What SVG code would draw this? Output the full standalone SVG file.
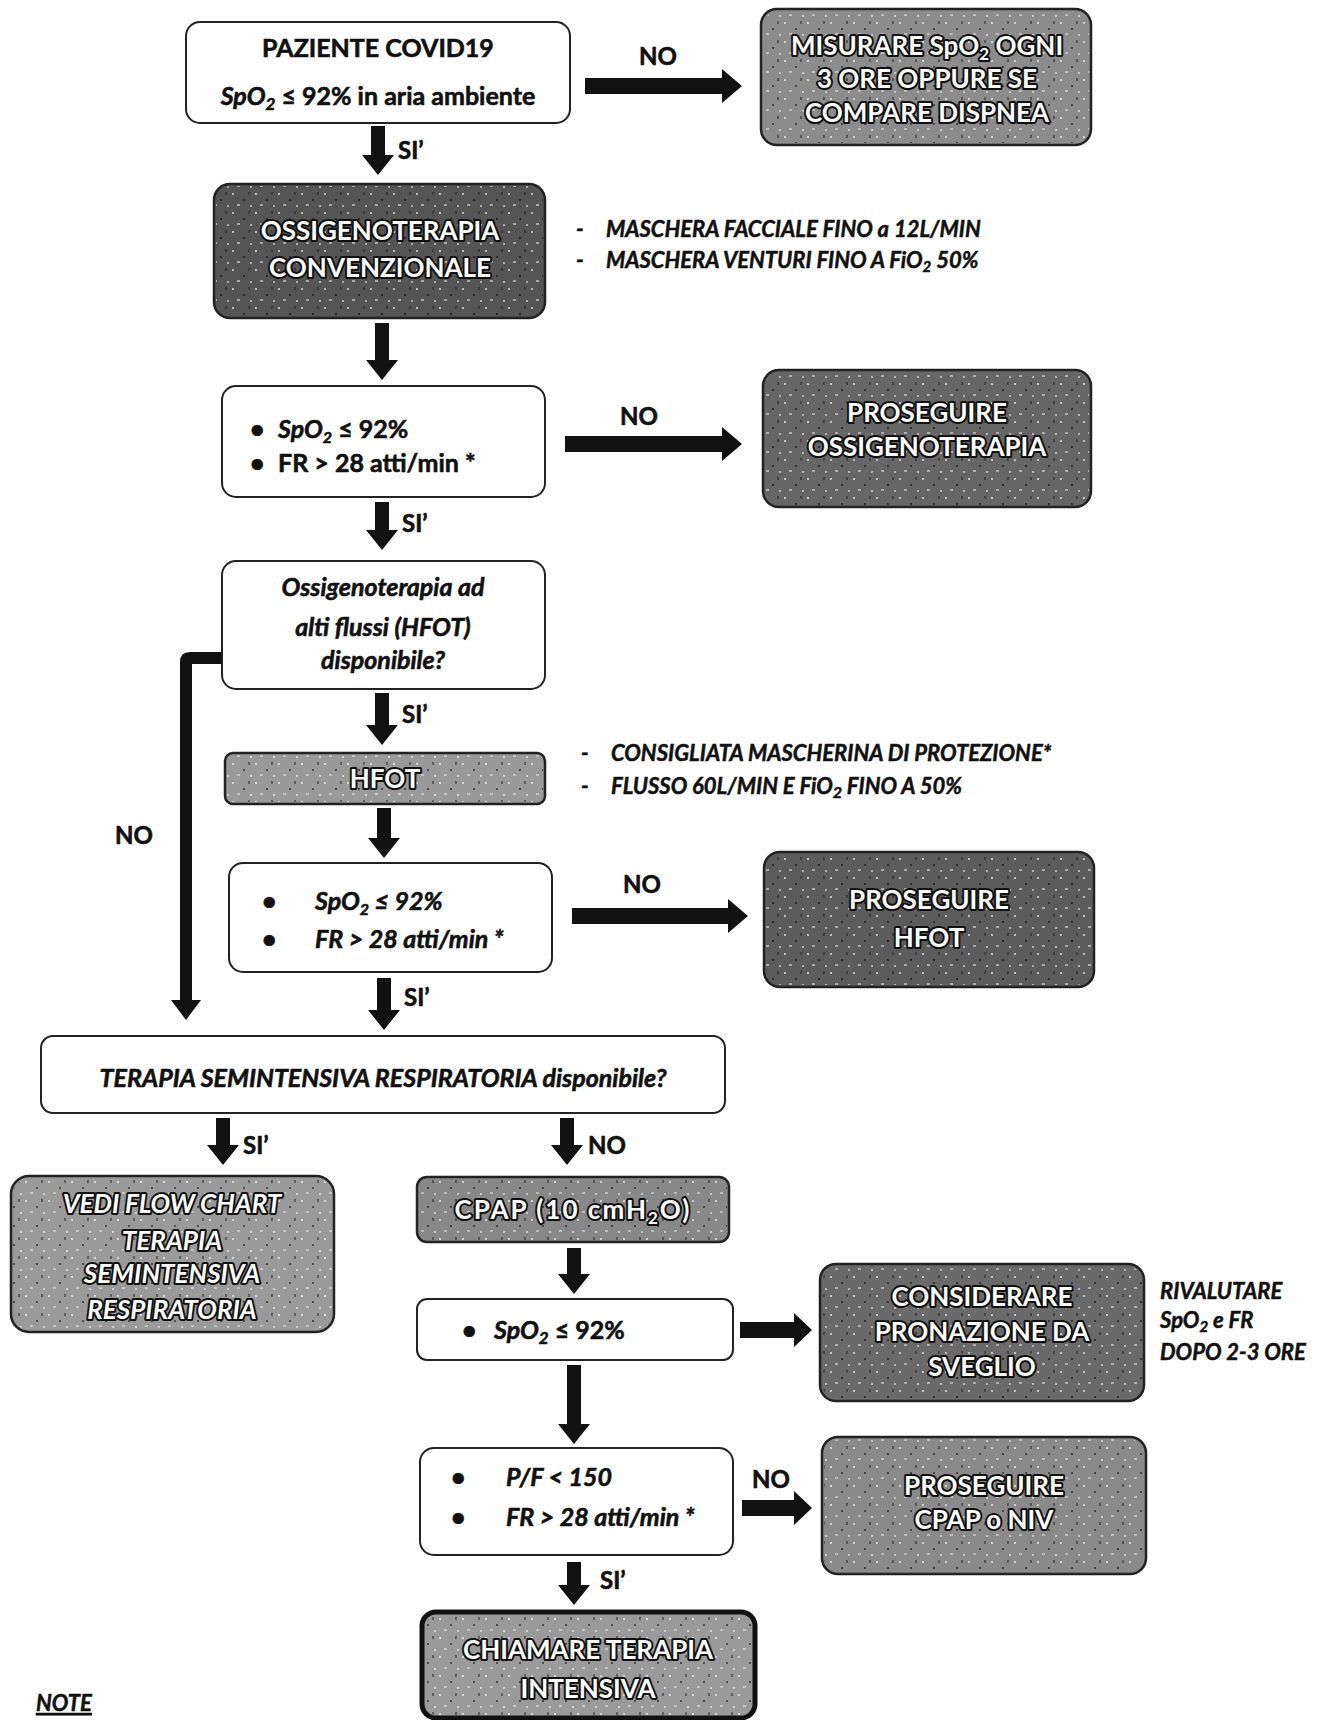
<svg xmlns="http://www.w3.org/2000/svg" width="1328" height="1720" viewBox="0 0 1328 1720">
<style>
text{font-family:Lato,"Open Sans","Liberation Sans",sans-serif;font-weight:bold}
.wb{fill:#fff;stroke:#222;stroke-width:2}
.db{stroke:#222;stroke-width:2.5}
.w{fill:#fff;stroke:#111;stroke-width:4;paint-order:stroke;stroke-linejoin:round;font-size:26px;text-anchor:middle}
.t{fill:#111;stroke:#111;stroke-width:0.6;font-size:25px}
.c{text-anchor:middle}
.i{font-style:italic}
.n{fill:#111;stroke:#111;stroke-width:0.5;font-size:22px;font-style:italic}
.l{fill:#111;stroke:#111;stroke-width:0.6;font-size:24px}
.arr{fill:#111}
</style>
<defs>
<pattern id="spk" width="23" height="19" patternUnits="userSpaceOnUse">
<rect x="2" y="3" width="2" height="2" fill="#fff" opacity="0.6"/>
<rect x="13" y="9" width="2" height="2" fill="#000" opacity="0.5"/>
<rect x="7" y="14" width="3" height="2" fill="#ddd" opacity="0.6"/>
<rect x="18" y="2" width="2" height="3" fill="#222" opacity="0.5"/>
<rect x="20" y="15" width="2" height="2" fill="#fff" opacity="0.5"/>
</pattern>
</defs>
<rect width="1328" height="1720" fill="#fff"/>

<g id="connectors">
<path class="arr" d="M371 126 H385 V155 H394 L378 175 L362 155 H371 Z"/>
<path class="arr" d="M375 323 H389 V360 H398 L382 380 L366 360 H375 Z"/>
<path class="arr" d="M375 502 H389 V530 H398 L382 550 L366 530 H375 Z"/>
<path class="arr" d="M375 693 H389 V725 H398 L382 745 L366 725 H375 Z"/>
<path class="arr" d="M377 808 H391 V838 H400 L384 858 L368 838 H377 Z"/>
<path class="arr" d="M377 978 H391 V1010 H400 L384 1030 L368 1010 H377 Z"/>
<path class="arr" d="M216 1118 H230 V1145 H239 L223 1165 L207 1145 H216 Z"/>
<path class="arr" d="M560 1118 H574 V1145 H583 L567 1165 L551 1145 H560 Z"/>
<path class="arr" d="M567 1248 H581 V1274 H590 L574 1294 L558 1274 H567 Z"/>
<path class="arr" d="M567 1365 H581 V1424 H590 L574 1444 L558 1424 H567 Z"/>
<path class="arr" d="M567 1562 H581 V1585 H590 L574 1605 L558 1585 H567 Z"/>
<path class="arr" d="M585 78 H722 V69 L742 86 L722 103 V94 H585 Z"/>
<path class="arr" d="M565 436 H722 V427 L742 444 L722 461 V452 H565 Z"/>
<path class="arr" d="M572 908 H728 V899 L748 916 L728 933 V924 H572 Z"/>
<path class="arr" d="M740 1322 H794 V1313 L812 1330 L794 1347 V1338 H740 Z"/>
<path class="arr" d="M742 1500 H794 V1491 L812 1508 L794 1525 V1516 H742 Z"/>
<path class="arr" d="M222 652 H190 Q180 652 180 662 V1000 H171 L186 1020 L201 1000 H192 V664 H222 Z"/>
<text class="l c" x="658" y="65">NO</text>
<text class="l" x="398" y="159">SI’</text>
<text class="l c" x="639" y="425">NO</text>
<text class="l" x="402" y="532">SI’</text>
<text class="l" x="402" y="723">SI’</text>
<text class="l c" x="642" y="893">NO</text>
<text class="l" x="404" y="1006">SI’</text>
<text class="l c" x="134" y="844">NO</text>
<text class="l" x="243" y="1154">SI’</text>
<text class="l" x="588" y="1154">NO</text>
<text class="l c" x="771" y="1488">NO</text>
<text class="l" x="600" y="1589">SI’</text>
</g>

<g id="n-paziente">
<rect class="wb" x="186" y="22" width="384" height="101" rx="14"/>
<text class="t c" x="378" y="57">PAZIENTE COVID19</text>
<text class="t c" x="378" y="105" font-size="26"><tspan class="i">SpO<tspan font-size="17" dy="5">2</tspan></tspan><tspan dy="-5"> ≤ 92% in aria ambiente</tspan></text>
</g>

<g id="n-misurare">
<rect class="db" x="761" y="9" width="330" height="136" rx="16" fill="#8c8c8c"/>
<rect x="763" y="11" width="326" height="132" rx="15" fill="url(#spk)"/>
<text class="w" x="927" y="55">MISURARE SpO<tspan font-size="17" dy="5">2</tspan><tspan dy="-5"> OGNI</tspan></text>
<text class="w" x="927" y="88">3 ORE OPPURE SE</text>
<text class="w" x="927" y="122">COMPARE DISPNEA</text>
</g>

<g id="n-ossigeno">
<rect class="db" x="214" y="184" width="331" height="134" rx="16" fill="#555"/>
<rect x="216" y="186" width="327" height="130" rx="15" fill="url(#spk)"/>
<text class="w" x="380" y="240">OSSIGENOTERAPIA</text>
<text class="w" x="380" y="277">CONVENZIONALE</text>
</g>

<g id="n-note1">
<text class="n" x="576" y="237">-</text>
<text class="n" x="606" y="237">MASCHERA FACCIALE FINO a 12L/MIN</text>
<text class="n" x="576" y="268">-</text>
<text class="n" x="606" y="268">MASCHERA VENTURI FINO A FiO<tspan font-size="15" dy="4">2</tspan><tspan dy="-4"> 50%</tspan></text>
</g>

<g id="n-check1">
<rect class="wb" x="222" y="386" width="323" height="111" rx="14"/>
<text class="t" x="250" y="438">•</text>
<text class="t" x="278" y="438"><tspan class="i">SpO<tspan font-size="16" dy="5">2</tspan></tspan><tspan dy="-5"> ≤ 92%</tspan></text>
<text class="t" x="250" y="472">•</text>
<text class="t" x="278" y="472">FR &gt; 28 atti/min *</text>
</g>

<g id="n-prosegui1">
<rect class="db" x="763" y="370" width="328" height="137" rx="16" fill="#666"/>
<rect x="765" y="372" width="324" height="133" rx="15" fill="url(#spk)"/>
<text class="w" x="927" y="422">PROSEGUIRE</text>
<text class="w" x="927" y="456">OSSIGENOTERAPIA</text>
</g>

<g id="n-hfot-q">
<rect class="wb" x="222" y="561" width="323" height="128" rx="14" fill="#fafafa"/>
<text class="t c i" x="383" y="596" font-size="27">Ossigenoterapia ad</text>
<text class="t c i" x="383" y="636" font-size="27">alti flussi (HFOT)</text>
<text class="t c i" x="383" y="669" font-size="27">disponibile?</text>
</g>

<g id="n-hfot">
<rect class="db" x="225" y="753" width="320" height="51" rx="8" fill="#999"/>
<rect x="227" y="755" width="316" height="47" rx="7" fill="url(#spk)"/>
<text class="w" x="385" y="788" font-size="25">HFOT</text>
</g>

<g id="n-note2">
<text class="n" x="581" y="761" font-size="24">-</text>
<text class="n" x="611" y="761" font-size="24">CONSIGLIATA MASCHERINA DI PROTEZIONE*</text>
<text class="n" x="581" y="794" font-size="24">-</text>
<text class="n" x="611" y="794" font-size="24">FLUSSO 60L/MIN E FiO<tspan font-size="16" dy="4">2</tspan><tspan dy="-4"> FINO A 50%</tspan></text>
</g>

<g id="n-check2">
<rect class="wb" x="229" y="863" width="323" height="109" rx="14"/>
<text class="t" x="262" y="910">•</text>
<text class="t i" x="315" y="910" font-size="24">SpO<tspan font-size="16" dy="5">2</tspan><tspan dy="-5"> ≤ 92%</tspan></text>
<text class="t" x="262" y="948">•</text>
<text class="t i" x="315" y="948" font-size="24">FR &gt; 28 atti/min *</text>
</g>

<g id="n-prosegui2">
<rect class="db" x="764" y="852" width="330" height="135" rx="16" fill="#5c5c5c"/>
<rect x="766" y="854" width="326" height="131" rx="15" fill="url(#spk)"/>
<text class="w" x="929" y="909">PROSEGUIRE</text>
<text class="w" x="929" y="947">HFOT</text>
</g>

<g id="n-semint-q">
<rect class="wb" x="41" y="1036" width="684" height="77" rx="12"/>
<text class="t c i" x="383" y="1087" font-size="28">TERAPIA SEMINTENSIVA RESPIRATORIA disponibile?</text>
</g>

<g id="n-vedi">
<rect class="db" x="11" y="1176" width="323" height="156" rx="18" fill="#9a9a9a"/>
<rect x="13" y="1178" width="319" height="152" rx="17" fill="url(#spk)"/>
<text class="w i" x="172" y="1213" font-size="27">VEDI FLOW CHART</text>
<text class="w i" x="172" y="1250" font-size="27">TERAPIA</text>
<text class="w i" x="172" y="1283" font-size="27">SEMINTENSIVA</text>
<text class="w i" x="172" y="1319" font-size="27">RESPIRATORIA</text>
</g>

<g id="n-cpap">
<rect class="db" x="417" y="1177" width="312" height="65" rx="10" fill="#888"/>
<rect x="419" y="1179" width="308" height="61" rx="9" fill="url(#spk)"/>
<text class="w" x="573" y="1219" letter-spacing="2">CPAP (10 cmH<tspan font-size="17" dy="5">2</tspan><tspan dy="-5">O)</tspan></text>
</g>

<g id="n-check3">
<rect class="wb" x="417" y="1299" width="316" height="61" rx="10"/>
<text class="t" x="462" y="1339">•</text>
<text class="t" x="494" y="1339" font-size="26"><tspan class="i">SpO<tspan font-size="17" dy="5">2</tspan></tspan><tspan dy="-5"> ≤ 92%</tspan></text>
</g>

<g id="n-considerare">
<rect class="db" x="820" y="1264" width="324" height="137" rx="16" fill="#6a6a6a"/>
<rect x="822" y="1266" width="320" height="133" rx="15" fill="url(#spk)"/>
<text class="w" x="982" y="1306">CONSIDERARE</text>
<text class="w" x="982" y="1341">PRONAZIONE DA</text>
<text class="w" x="982" y="1376">SVEGLIO</text>
</g>

<g id="n-rivalutare">
<text class="n" x="1160" y="1299" font-size="23">RIVALUTARE</text>
<text class="n" x="1160" y="1328" font-size="23">SpO<tspan font-size="15" dy="4">2</tspan><tspan dy="-4"> e FR</tspan></text>
<text class="n" x="1160" y="1360" font-size="23">DOPO 2-3 ORE</text>
</g>

<g id="n-check4">
<rect class="wb" x="420" y="1448" width="313" height="107" rx="14"/>
<text class="t" x="451" y="1486">•</text>
<text class="t i" x="506" y="1486" font-size="27">P/F &lt; 150</text>
<text class="t" x="451" y="1526">•</text>
<text class="t i" x="506" y="1526" font-size="27">FR &gt; 28 atti/min *</text>
</g>

<g id="n-prosegui3">
<rect class="db" x="822" y="1437" width="324" height="137" rx="16" fill="#8a8a8a"/>
<rect x="824" y="1439" width="320" height="133" rx="15" fill="url(#spk)"/>
<text class="w" x="984" y="1495">PROSEGUIRE</text>
<text class="w" x="984" y="1529">CPAP o NIV</text>
</g>

<g id="n-chiamare">
<rect x="422" y="1612" width="333" height="106" rx="14" fill="#9a9a9a" stroke="#111" stroke-width="5"/>
<rect x="425" y="1615" width="327" height="100" rx="12" fill="url(#spk)"/>
<text class="w" x="588" y="1659">CHIAMARE TERAPIA</text>
<text class="w" x="588" y="1698">INTENSIVA</text>
</g>

<g id="n-note">
<text class="n" x="36" y="1711" text-decoration="underline">NOTE</text>
</g>
</svg>
